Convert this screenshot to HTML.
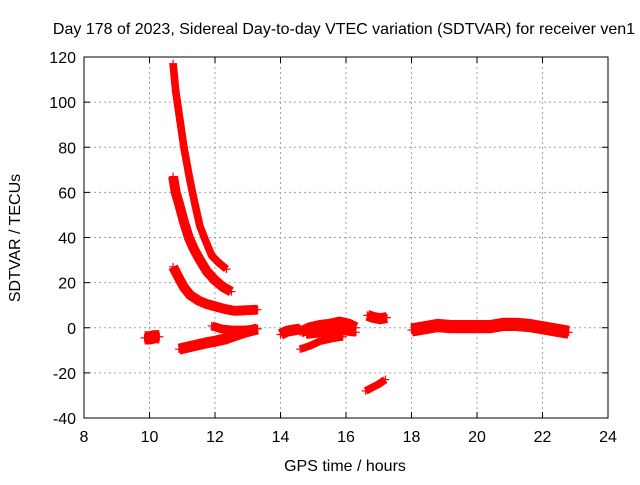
<!DOCTYPE html>
<html><head><meta charset="utf-8"><style>
body{margin:0;background:#fff}
svg text{font-family:"Liberation Sans",sans-serif;font-size:16px;fill:#000}
</style></head><body>
<svg width="640" height="480" xmlns="http://www.w3.org/2000/svg">
<rect width="640" height="480" fill="#fff"/>
<g id="grid"></g>
<g id="series"></g>
<rect x="84" y="57" width="524" height="361" fill="none" stroke="#000" stroke-width="1"/>
<g id="ticks"></g>
<text x="344" y="34" text-anchor="middle">Day 178 of 2023, Sidereal Day-to-day VTEC variation (SDTVAR) for receiver ven1</text>
<text x="345" y="471" text-anchor="middle">GPS time / hours</text>
<text transform="translate(20,238) rotate(-90)" text-anchor="middle">SDTVAR / TECUs</text>
</svg>
<script>
const xTicks=[8,10,12,14,16,18,20,22,24];
const yTicks=[-40,-20,0,20,40,60,80,100,120];
const arcA_x=[10.72,10.8,10.93,11.05,11.24,11.4,11.54,11.7,11.9,12.1,12.35];
const arcA_y=[117,105,92,80,65,54,45,39,32,29,26];
const arcB_x=[10.72,10.8,10.9,11.05,11.2,11.35,11.54,11.75,12.0,12.25,12.5];
const arcB_y=[67,60,55,47,40,35,30,25,21,18,16];
const arcC_x=[10.72,10.9,11.05,11.24,11.5,11.75,12.0,12.3,12.6,13.0,13.3];
const arcC_y=[27,22,18,14.5,12,10.5,9.5,8.3,7.5,7.8,8];
const lowD_x=[10.9,11.2,11.5,11.8,12.0,12.3,12.5,12.9,13.3];
const lowD_y=[-9.5,-8.5,-7.5,-6.5,-6,-5,-4,-2,-0.5];
const segE_x=[11.9,12.2,12.5,12.9,13.3];
const segE_y=[0.8,-0.5,-1,-1,-0.5];
const blobF_x=[9.85,10.0,10.15,10.3];
const blobF_y=[-4.5,-4.5,-4,-4];
const segG_x=[14.0,14.2,14.4,14.6];
const segG_y=[-3,-1.5,-1,-0.5];
const segH_x=[14.6,14.9,15.2,15.5,15.8,16.1,16.3];
const segH_y=[-2,0,1,1.5,2.5,1.5,0];
const segH2_x=[14.8,15.1,15.4,15.7,16.0,16.3];
const segH2_y=[-3,-2.5,-2,-1.5,-1.5,-2];
const segH3_x=[14.6,14.9,15.2,15.5,15.9];
const segH3_y=[-9.5,-8,-6,-5,-4];
const segI_x=[16.65,16.85,17.05,17.25];
const segI_y=[5.5,4.5,4,4.5];
const segJ_x=[16.6,16.8,17.0,17.2];
const segJ_y=[-28,-26.5,-25,-23];
const bandK_x=[18.0,18.4,18.8,19.2,19.6,20.0,20.4,20.8,21.2,21.6,22.0,22.4,22.8];
const bandK_y=[-1,0,1,0.5,0.5,0.5,0.5,1.5,1.5,1,0,-1,-2];
const seriesList=[
 ['arc-a',arcA_x,arcA_y,2.5],['arc-b',arcB_x,arcB_y,3.5],['arc-c',arcC_x,arcC_y,3.5],
 ['low-d',lowD_x,lowD_y,4],['seg-e',segE_x,segE_y,3],['blob-f',blobF_x,blobF_y,5],
 ['seg-g',segG_x,segG_y,4],['seg-h',segH_x,segH_y,4],['seg-h2',segH2_x,segH2_y,3],['seg-h3',segH3_x,segH3_y,2.5],
 ['seg-i',segI_x,segI_y,4],['seg-j',segJ_x,segJ_y,2.5],['band-k',bandK_x,bandK_y,5]];
const NS='http://www.w3.org/2000/svg';
const px=h=>84+(h-8)*524/16;
const py=v=>418-(v+40)*361/160;
function mk(t,a,p){const e=document.createElementNS(NS,t);for(const k in a)e.setAttribute(k,a[k]);p.appendChild(e);return e;}
const grid=document.getElementById('grid'),ticks=document.getElementById('ticks'),ser=document.getElementById('series');
xTicks.forEach(t=>{const x=px(t);
 if(t>8&&t<24){const g=mk('line',{x1:x,x2:x,y1:57,y2:418,stroke:'#a0a0a0','stroke-dasharray':'2,3'},grid);
 
 }
 mk('line',{x1:x,x2:x,y1:418,y2:412,stroke:'#000'},ticks);mk('line',{x1:x,x2:x,y1:57,y2:63,stroke:'#000'},ticks);
 const l=mk('text',{x:x,y:442,'text-anchor':'middle'},ticks);l.textContent=t;
 
 });
yTicks.forEach(t=>{const y=py(t);
 if(t>-40&&t<120){const g=mk('line',{x1:84,x2:608,y1:y,y2:y,stroke:'#a0a0a0','stroke-dasharray':'2,3'},grid);
 
 }
 mk('line',{x1:84,x2:90,y1:y,y2:y,stroke:'#000'},ticks);mk('line',{x1:608,x2:602,y1:y,y2:y,stroke:'#000'},ticks);
 const l=mk('text',{x:76,y:y+6,'text-anchor':'end'},ticks);l.textContent=t;
 
 });
seriesList.forEach(([name,xs,ys,w])=>{
 const g=mk('g',{},ser);
 
 
 const pts=xs.map((x,i)=>px(x)+','+py(ys[i])).join(' ');
 mk('polyline',{points:pts,fill:'none',stroke:'#f00','stroke-width':w*361/160+2,'stroke-linejoin':'round','stroke-linecap':'butt'},g);
 xs.forEach((x,i)=>{const cx=px(x),cy=py(ys[i]);
  const m=mk('path',{d:`M${cx-4},${cy}H${cx+4}M${cx},${cy-4}V${cy+4}`,stroke:'#f00','stroke-width':1.2},g);
  
  });
});
</script>
</body></html>
